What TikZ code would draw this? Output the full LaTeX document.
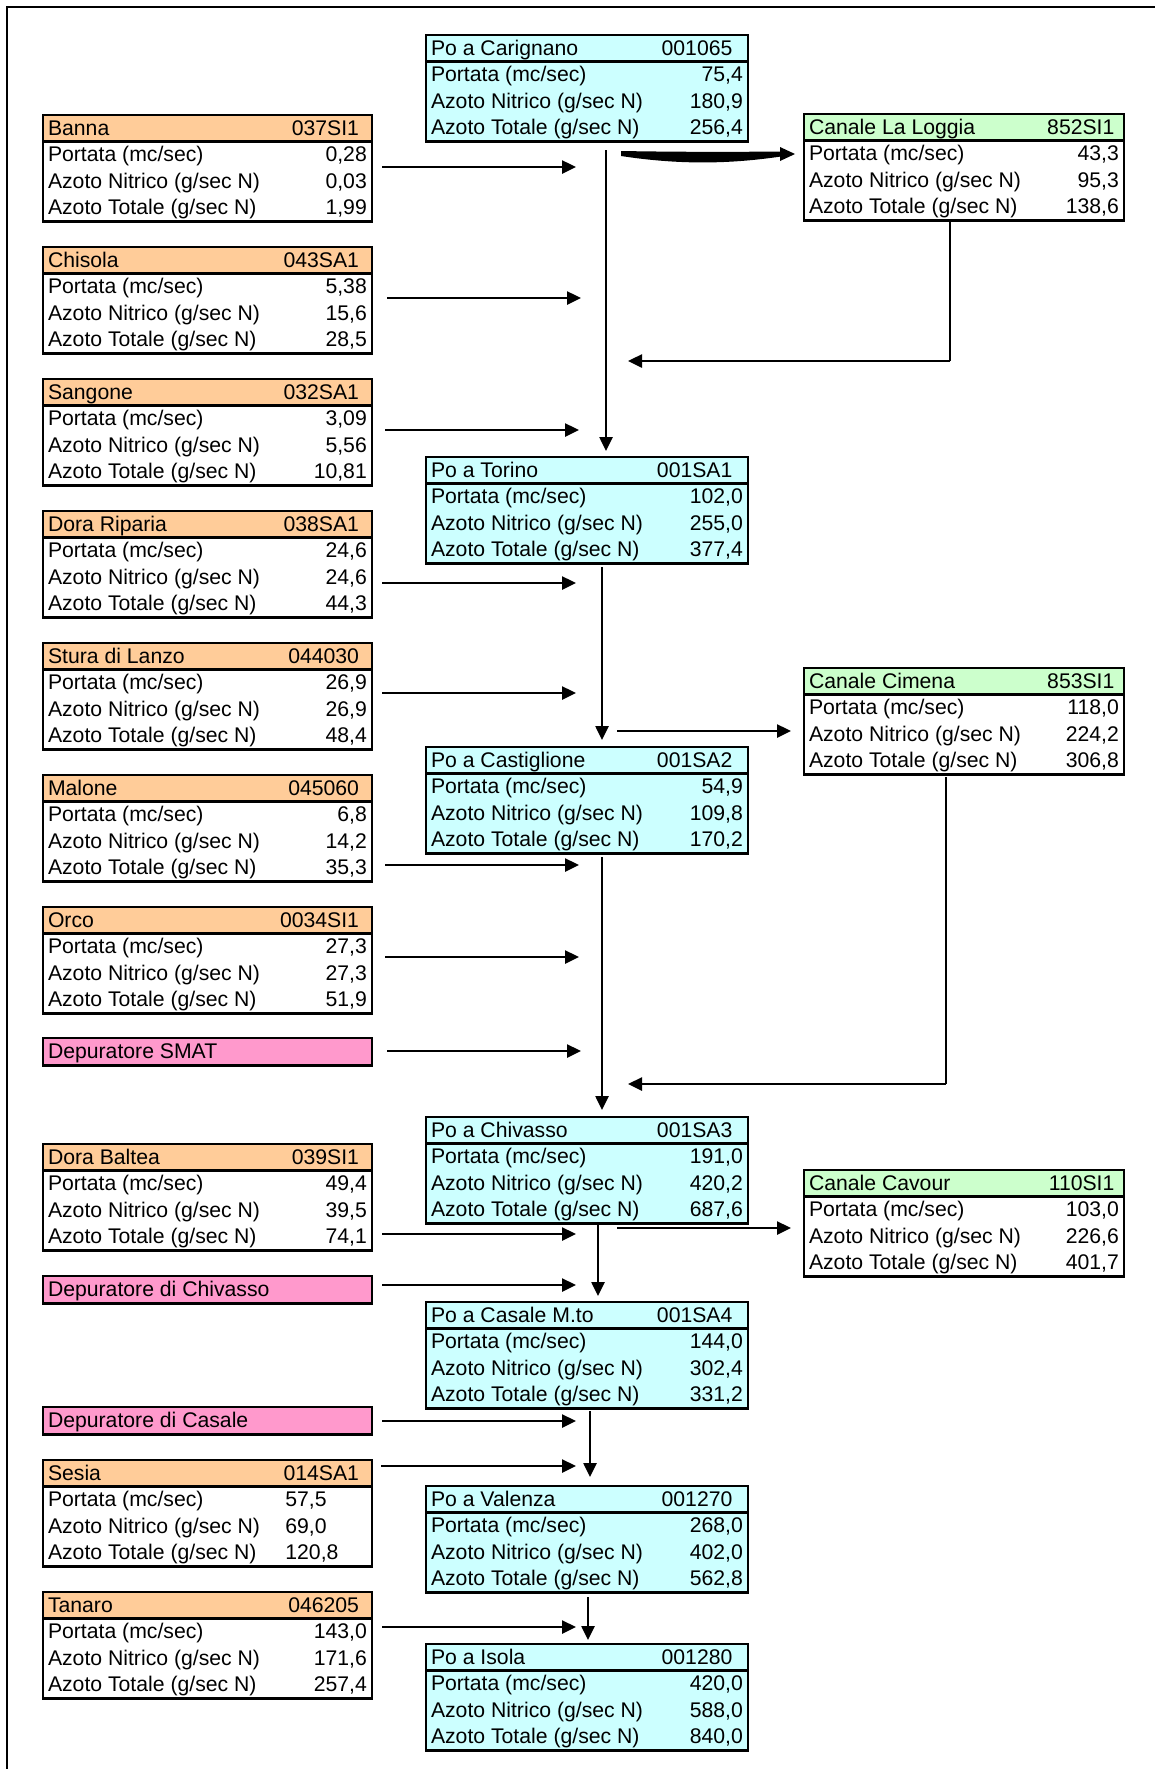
\documentclass[tikz,border=0pt]{standalone}
\usepackage{fontspec}
\setmainfont{Liberation Sans}
\usepackage{xcolor}
\usetikzlibrary{arrows.meta}

\definecolor{riverhead}{HTML}{FFCC99}
\definecolor{pohead}{HTML}{CCFFFF}
\definecolor{canalhead}{HTML}{CCFFCC}
\definecolor{plant}{HTML}{FF99CC}

\tikzset{
	cell/.style={rectangle, inner sep=0pt, anchor=north west, minimum height=52.8pt},
	rule/.style={line width=1.3pt},
	txt/.style={inner sep=0pt, font=\fontsize{10.6}{12}\selectfont},
	flow/.style={line width=1.25pt, -{Triangle[length=7pt,width=6.5pt]}},
	thinflow/.style={line width=0.7pt},
}

% column settings: box width, gap of the code, body colour
\def\boxw{164pt}
\def\codegap{6.2pt}
\def\bodyfill{white}

% name, x, y, header colour, title, code, three values
\newcommand{\stationbox}[9]{%
	\node[cell, minimum width=\boxw, fill=\bodyfill] (#1) at (#2,#3) {};
	\fill[#4] (#1.north west) rectangle ([yshift=-13.2pt]#1.north east);
	\draw[rule] ([yshift=-13.2pt]#1.north west) -- ([yshift=-13.2pt]#1.north east);
	\draw[rule] (#1.north west) rectangle (#1.south east);
	\node[txt, anchor=base west] (#1-name) at ([xshift=2.3pt,yshift=-10.2pt]#1.north west) {#5};
	\node[txt, anchor=base east] (#1-code) at ([xshift=-\codegap,yshift=-10.2pt]#1.north east) {#6};
	\node[txt, anchor=base west] (#1-q) at ([xshift=2.3pt,yshift=-23.4pt]#1.north west) {Portata (mc/sec)};
	\node[txt, anchor=base west] (#1-n) at ([xshift=2.3pt,yshift=-36.6pt]#1.north west) {Azoto Nitrico (g/sec N)};
	\node[txt, anchor=base west] (#1-t) at ([xshift=2.3pt,yshift=-49.8pt]#1.north west) {Azoto Totale (g/sec N)};
	\node[txt, anchor=base east] (#1-qv) at ([xshift=-2.3pt,yshift=-23.4pt]#1.north east) {#7};
	\node[txt, anchor=base east] (#1-nv) at ([xshift=-2.3pt,yshift=-36.6pt]#1.north east) {#8};
	\node[txt, anchor=base east] (#1-tv) at ([xshift=-2.3pt,yshift=-49.8pt]#1.north east) {#9};
}

% name, x, y, title
\newcommand{\plantbox}[4]{%
	\node[cell, minimum width=164pt, minimum height=13.2pt, fill=plant] (#1) at (#2,#3) {};
	\draw[rule] (#1.north west) rectangle (#1.south east);
	\node[txt, anchor=base west] (#1-name) at ([xshift=2.3pt,yshift=-10.2pt]#1.north west) {#4};
}

\newcommand{\lval}[1]{\makebox[40.7pt][l]{#1}}

\begin{document}
\begin{tikzpicture}[x=0.5pt, y=-0.5pt]
	\useasboundingbox (0,0) rectangle (1155,1769);
	\draw[line width=1pt] (7,1769) -- (7,7) -- (1155,7);

	% tributaries
	\stationbox{Banna}{43}{115}{riverhead}{Banna}{037SI1}{0,28}{0,03}{1,99}
	\stationbox{Chisola}{43}{247}{riverhead}{Chisola}{043SA1}{5,38}{15,6}{28,5}
	\stationbox{Sangone}{43}{379}{riverhead}{Sangone}{032SA1}{3,09}{5,56}{10,81}
	\stationbox{DoraRiparia}{43}{511}{riverhead}{Dora Riparia}{038SA1}{24,6}{24,6}{44,3}
	\stationbox{Stura}{43}{643}{riverhead}{Stura di Lanzo}{044030}{26,9}{26,9}{48,4}
	\stationbox{Malone}{43}{775}{riverhead}{Malone}{045060}{6,8}{14,2}{35,3}
	\stationbox{Orco}{43}{907}{riverhead}{Orco}{0034SI1}{27,3}{27,3}{51,9}
	\plantbox{SMAT}{43}{1038}{Depuratore SMAT}
	\stationbox{DoraBaltea}{43}{1144}{riverhead}{Dora Baltea}{039SI1}{49,4}{39,5}{74,1}
	\plantbox{DepChivasso}{43}{1276}{Depuratore di Chivasso}
	\plantbox{DepCasale}{43}{1407}{Depuratore di Casale}
	\stationbox{Sesia}{43}{1460}{riverhead}{Sesia}{014SA1}{\lval{57,5}}{\lval{69,0}}{\lval{120,8}}
	\stationbox{Tanaro}{43}{1592}{riverhead}{Tanaro}{046205}{143,0}{171,6}{257,4}

	% Po stations
	\def\boxw{160.5pt}
	\def\codegap{7.5pt}
	\def\bodyfill{pohead}
	\stationbox{Carignano}{426}{35}{pohead}{Po a Carignano}{001065}{75,4}{180,9}{256,4}
	\stationbox{Torino}{426}{457}{pohead}{Po a Torino}{001SA1}{102,0}{255,0}{377,4}
	\stationbox{Castiglione}{426}{747}{pohead}{Po a Castiglione}{001SA2}{54,9}{109,8}{170,2}
	\stationbox{Chivasso}{426}{1117}{pohead}{Po a Chivasso}{001SA3}{191,0}{420,2}{687,6}
	\stationbox{Casale}{426}{1302}{pohead}{Po a Casale M.to}{001SA4}{144,0}{302,4}{331,2}
	\stationbox{Valenza}{426}{1486}{pohead}{Po a Valenza}{001270}{268,0}{402,0}{562,8}
	\stationbox{Isola}{426}{1644}{pohead}{Po a Isola}{001280}{420,0}{588,0}{840,0}

	% canals
	\def\boxw{159.5pt}
	\def\codegap{4.5pt}
	\def\bodyfill{white}
	\stationbox{Loggia}{804}{114}{canalhead}{Canale La Loggia}{852SI1}{43,3}{95,3}{138,6}
	\stationbox{Cimena}{804}{668}{canalhead}{Canale Cimena}{853SI1}{118,0}{224,2}{306,8}
	\stationbox{Cavour}{804}{1170}{canalhead}{Canale Cavour}{110SI1}{103,0}{226,6}{401,7}

	% arrow ends
	\coordinate (Banna-out) at (382,167);        \coordinate (Banna-in) at (576,167);
	\coordinate (Chisola-out) at (387,298);      \coordinate (Chisola-in) at (581,298);
	\coordinate (Sangone-out) at (385,430);      \coordinate (Sangone-in) at (579,430);
	\coordinate (DoraRiparia-out) at (382,583);  \coordinate (DoraRiparia-in) at (576,583);
	\coordinate (Stura-out) at (382,693);        \coordinate (Stura-in) at (576,693);
	\coordinate (Malone-out) at (385,865);       \coordinate (Malone-in) at (579,865);
	\coordinate (Orco-out) at (385,957);         \coordinate (Orco-in) at (579,957);
	\coordinate (SMAT-out) at (387,1051);        \coordinate (SMAT-in) at (581,1051);
	\coordinate (DoraBaltea-out) at (382,1234);  \coordinate (DoraBaltea-in) at (576,1234);
	\coordinate (DepChivasso-out) at (382,1285); \coordinate (DepChivasso-in) at (576,1285);
	\coordinate (DepCasale-out) at (382,1421);   \coordinate (DepCasale-in) at (576,1421);
	\coordinate (Sesia-out) at (381,1466);       \coordinate (Sesia-in) at (576,1466);
	\coordinate (Tanaro-out) at (382,1627);      \coordinate (Tanaro-in) at (576,1627);

	\coordinate (Carignano-out) at (606,150);    \coordinate (Torino-in) at (606,451);
	\coordinate (Torino-out) at (602,567);       \coordinate (Castiglione-in) at (602,740);
	\coordinate (Castiglione-out) at (602,857);  \coordinate (Chivasso-in) at (602,1110);
	\coordinate (Chivasso-out) at (598,1225);    \coordinate (Casale-in) at (598,1296);
	\coordinate (Casale-out) at (590,1411);      \coordinate (Valenza-in) at (590,1477);
	\coordinate (Valenza-out) at (588,1597);     \coordinate (Isola-in) at (588,1640);

	\coordinate (Cimena-take) at (617,731);      \coordinate (Cimena-in) at (791,731);
	\coordinate (Cavour-take) at (617,1228);     \coordinate (Cavour-in) at (791,1228);
	\coordinate (Loggia-out) at (950,222);       \coordinate (Loggia-turn) at (950,361);
	\coordinate (Loggia-back) at (628,361);
	\coordinate (Cimena-out) at (946,777);       \coordinate (Cimena-turn) at (946,1084);
	\coordinate (Cimena-back) at (628,1084);

	% inflows
	\foreach \src in {Banna,Chisola,Sangone,DoraRiparia,Stura,Malone,Orco,SMAT,DoraBaltea,DepChivasso,DepCasale,Sesia,Tanaro}
		\draw[flow] (\src-out) -- (\src-in);

	% the Po
	\draw[flow] (Carignano-out) -- (Torino-in);
	\draw[flow] (Torino-out) -- (Castiglione-in);
	\draw[flow] (Castiglione-out) -- (Chivasso-in);
	\draw[flow] (Chivasso-out) -- (Casale-in);
	\draw[flow] (Casale-out) -- (Valenza-in);
	\draw[flow] (Valenza-out) -- (Isola-in);

	% canals
	\fill (621,151) .. controls (680,152) and (730,152) .. (781,151.5) -- (781,156.5)
		.. controls (730,164) and (680,165) .. (621,156) -- cycle;
	\fill (780,147) -- (795,154) -- (780,161) -- cycle;
	\draw[flow] (Cimena-take) -- (Cimena-in);
	\draw[flow] (Cavour-take) -- (Cavour-in);
	\draw[thinflow] (Loggia-out) -- (Loggia-turn);
	\draw[flow] (Loggia-turn) -- (Loggia-back);
	\draw[thinflow] (Cimena-out) -- (Cimena-turn);
	\draw[flow] (Cimena-turn) -- (Cimena-back);
\end{tikzpicture}
\end{document}
